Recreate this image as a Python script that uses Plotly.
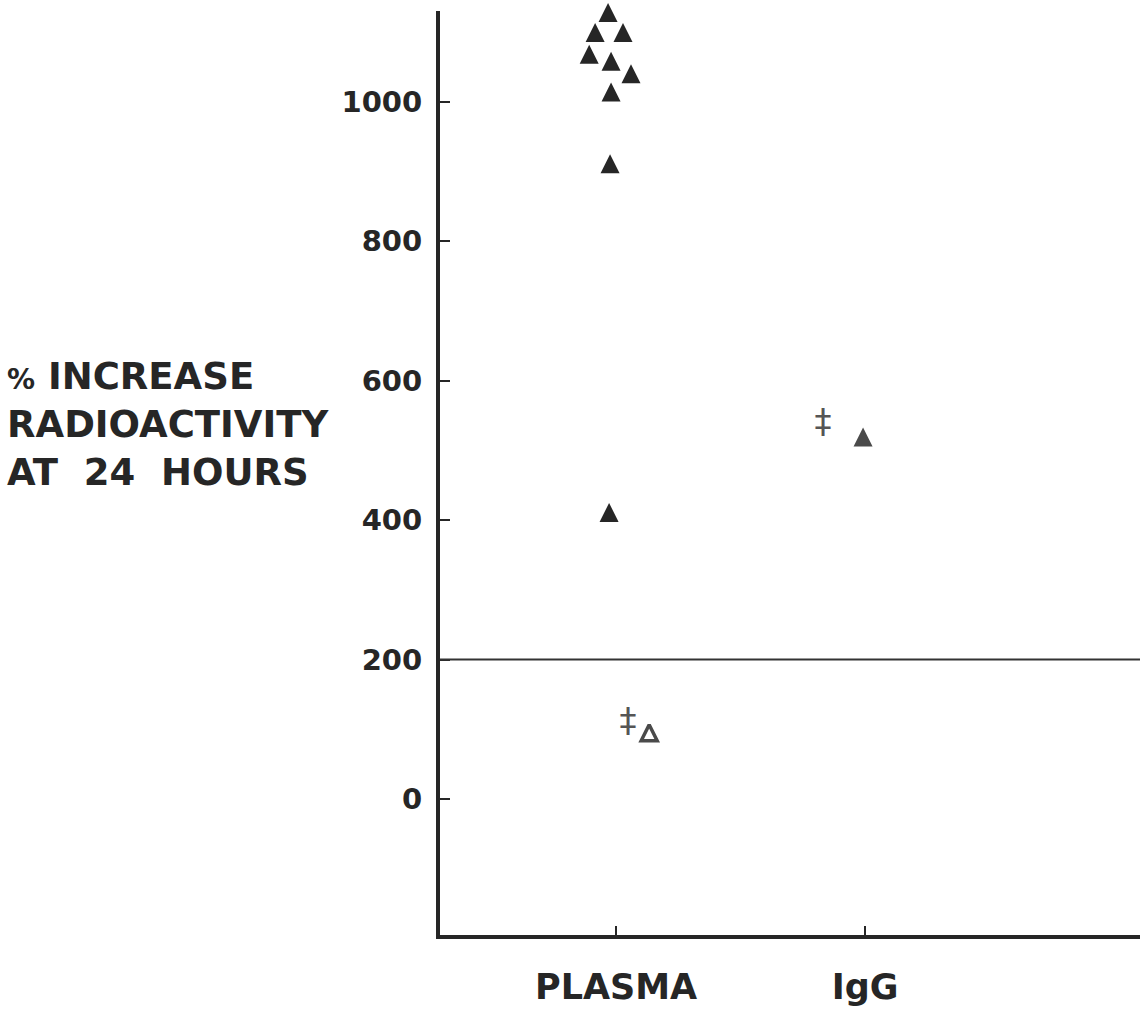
import plotly.graph_objects as go

# ---- data ----
categories = ["PLASMA", "IgG"]
category_pos = [1, 2]

plasma_x = [0.968, 0.916, 1.028, 0.892, 0.980, 1.060, 0.980, 0.976, 0.972]
plasma_y = [1128, 1099, 1099, 1068, 1058, 1040, 1014, 911, 411]

plasma_open_x = [1.133]
plasma_open_y = [95]

igg_x = [1.992]
igg_y = [519]

dagger_x = [1.048, 1.831]
dagger_y = [108, 537]
dagger_text = ["‡", "‡"]

threshold = 200
y_ticks = [0, 200, 400, 600, 800, 1000]
y_title = "<span style='font-size:28px'>%</span> INCREASE<br>RADIOACTIVITY<br>AT  24  HOURS"

ink = "#262626"
mark_size = 19

fig = go.Figure()

fig.add_trace(go.Scatter(
    x=plasma_x, y=plasma_y, mode="markers",
    marker=dict(symbol="arrow-down", angle=180, standoff=mark_size / 2,
                size=mark_size, color=ink, line=dict(width=0)),
    cliponaxis=False, showlegend=False, hoverinfo="skip"))

fig.add_trace(go.Scatter(
    x=plasma_open_x, y=plasma_open_y, mode="markers",
    marker=dict(symbol="arrow-down-open", angle=180, standoff=(mark_size - 3) / 2,
                size=mark_size - 3, color="#4a4a4a", line=dict(width=3.5, color="#4a4a4a")),
    cliponaxis=False, showlegend=False, hoverinfo="skip"))

fig.add_trace(go.Scatter(
    x=igg_x, y=igg_y, mode="markers",
    marker=dict(symbol="arrow-down", angle=180, standoff=mark_size / 2,
                size=mark_size, color="#4a4a4a", line=dict(width=0)),
    cliponaxis=False, showlegend=False, hoverinfo="skip"))

fig.add_trace(go.Scatter(
    x=dagger_x, y=dagger_y, mode="text", text=dagger_text,
    textfont=dict(family="DejaVu Sans", size=34, color="#555555"),
    textposition="middle center",
    cliponaxis=False, showlegend=False, hoverinfo="skip"))

fig.add_shape(type="line", xref="paper", x0=0, x1=1, yref="y",
              y0=threshold, y1=threshold, line=dict(color="#333333", width=2))

fig.add_annotation(
    text=y_title, xref="paper", yref="paper", x=-0.621, y=0.553,
    xanchor="left", yanchor="middle", align="left", showarrow=False,
    font=dict(family="DejaVu Sans", size=37, color=ink, weight="bold"))

fig.update_layout(
    width=1147, height=1020,
    margin=dict(l=440, r=7, t=11, b=85),
    paper_bgcolor="white", plot_bgcolor="white",
    xaxis=dict(range=[0.293, 3.104], tickvals=category_pos, ticktext=categories,
               showgrid=False, zeroline=False, showline=True, linewidth=4,
               linecolor=ink, ticks="inside", ticklen=9, tickwidth=2,
               tickcolor=ink, ticklabelstandoff=18,
               tickfont=dict(family="DejaVu Sans", size=35, color=ink, weight="bold")),
    yaxis=dict(range=[-195, 1130], tickvals=y_ticks,
               showgrid=False, zeroline=False, showline=True, linewidth=4,
               linecolor=ink, ticks="inside", ticklen=10, tickwidth=2,
               tickcolor=ink, ticklabelstandoff=8,
               tickfont=dict(family="DejaVu Sans", size=29, color=ink, weight="bold")),
)

fig.write_html("out.html")
